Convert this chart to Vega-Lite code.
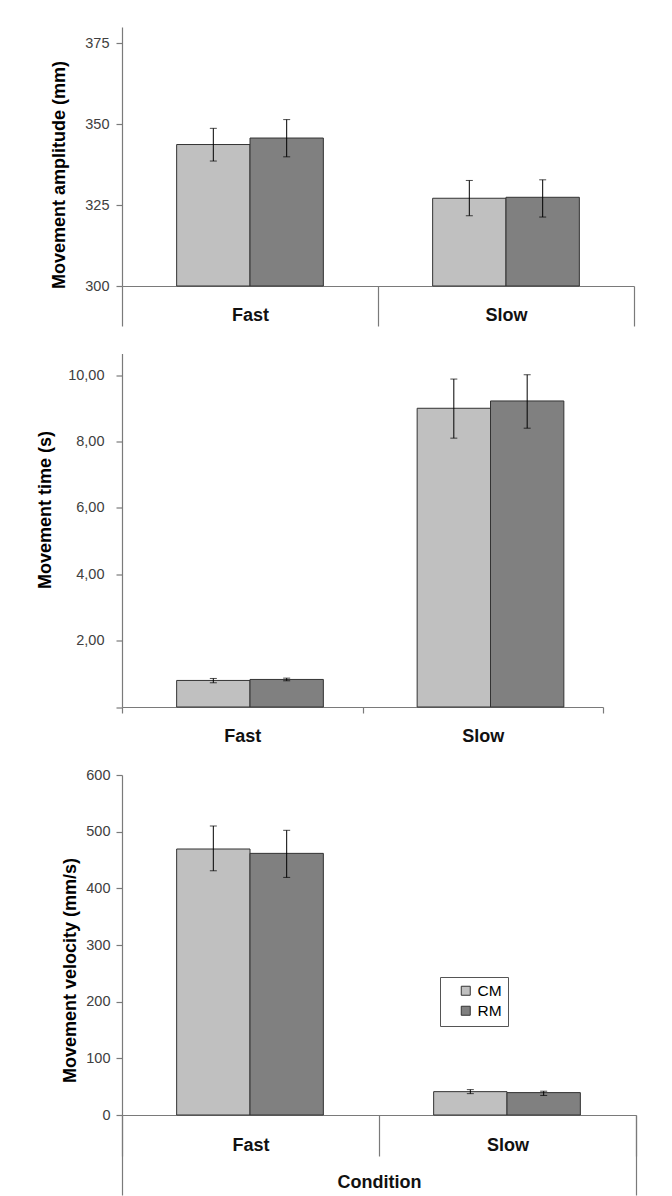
{
  "$schema": "https://vega.github.io/schema/vega-lite/v6.json",
  "background": "white",
  "padding": {"left": 36, "top": 27, "right": 35, "bottom": 0},
  "bounds": "flush",
  "spacing": 67.5,
  "config": {
    "font": "Liberation Sans",
    "view": {"stroke": null},
    "axis": {
      "grid": false,
      "domainColor": "#7a7a7a",
      "tickColor": "#7a7a7a",
      "domainWidth": 1.2,
      "tickWidth": 1.2,
      "labelFont": "Liberation Sans",
      "labelFontSize": 14.5,
      "labelColor": "#404040",
      "titleFont": "Liberation Sans",
      "titleFontSize": 18,
      "titleFontWeight": "bold",
      "titleColor": "#000000"
    },
    "axisX": {
      "labelFontSize": 18,
      "labelFontWeight": "bold",
      "labelColor": "#111111",
      "labelAngle": 0
    }
  },
  "resolve": {"scale": {"color": "independent"}},
  "datasets": {
    "amp": [
      {"cond": "Fast", "grp": "CM", "mean": 343.7, "lo": 338.6, "hi": 348.7},
      {"cond": "Fast", "grp": "RM", "mean": 345.7, "lo": 339.9, "hi": 351.4},
      {"cond": "Slow", "grp": "CM", "mean": 327.1, "lo": 321.7, "hi": 332.6},
      {"cond": "Slow", "grp": "RM", "mean": 327.4, "lo": 321.3, "hi": 332.8}
    ],
    "time": [
      {"cond": "Fast", "grp": "CM", "mean": 0.80, "lo": 0.73, "hi": 0.86},
      {"cond": "Fast", "grp": "RM", "mean": 0.83, "lo": 0.79, "hi": 0.87},
      {"cond": "Slow", "grp": "CM", "mean": 9.0, "lo": 8.10, "hi": 9.88},
      {"cond": "Slow", "grp": "RM", "mean": 9.22, "lo": 8.40, "hi": 10.01}
    ],
    "vel": [
      {"cond": "Fast", "grp": "CM", "mean": 469.4, "lo": 431, "hi": 510},
      {"cond": "Fast", "grp": "RM", "mean": 461.7, "lo": 419.3, "hi": 502.4},
      {"cond": "Slow", "grp": "CM", "mean": 41.2, "lo": 37.7, "hi": 44.8},
      {"cond": "Slow", "grp": "RM", "mean": 39.5, "lo": 34.5, "hi": 42.0}
    ],
    "outer": [
      {"outer": "Condition"}
    ]
  },
  "vconcat": [
    {
      "width": 512,
      "height": 259,
      "data": {"name": "amp"},
      "encoding": {
        "x": {"field": "cond", "type": "nominal", "scale": {"paddingInner": 0, "paddingOuter": 0},
              "axis": {"title": null, "tickBand": "extent", "tickSize": 40, "labelPadding": -19.4}},
        "xOffset": {"field": "grp", "type": "nominal", "scale": {"paddingInner": 0, "paddingOuter": 0.745}}
      },
      "layer": [
        {
          "mark": {"type": "bar", "stroke": "#333333", "strokeWidth": 1},
          "encoding": {
            "y": {"field": "mean", "type": "quantitative", "scale": {"domain": [300, 375], "zero": false},
                  "axis": {"title": "Movement amplitude (mm)", "values": [300, 325, 350, 375], "tickSize": 6, "labelPadding": 7,
                           "titleX": -63, "titleY": 147.5, "titleBaseline": "middle", "titleAlign": "center", "titleAngle": -90}},
            "y2": {"datum": 300},
            "color": {"field": "grp", "type": "nominal", "scale": {"domain": ["CM", "RM"], "range": ["#c0c0c0", "#808080"]}, "legend": null}
          }
        },
        {
          "mark": {"type": "rule", "color": "#000000", "strokeWidth": 1},
          "encoding": {"y": {"field": "lo", "type": "quantitative"}, "y2": {"field": "hi"}}
        },
        {
          "mark": {"type": "tick", "orient": "horizontal", "size": 7, "thickness": 1, "color": "#000000"},
          "encoding": {"y": {"field": "lo", "type": "quantitative"}}
        },
        {
          "mark": {"type": "tick", "orient": "horizontal", "size": 7, "thickness": 1, "color": "#000000"},
          "encoding": {"y": {"field": "hi", "type": "quantitative"}}
        }
      ]
    },
    {
      "width": 481,
      "height": 353.5,
      "data": {"name": "time"},
      "encoding": {
        "x": {"field": "cond", "type": "nominal", "scale": {"paddingInner": 0, "paddingOuter": 0},
              "axis": {"title": null, "tickBand": "extent", "tickSize": 6, "labelPadding": 14.5}},
        "xOffset": {"field": "grp", "type": "nominal", "scale": {"paddingInner": 0, "paddingOuter": 0.748}}
      },
      "layer": [
        {
          "mark": {"type": "bar", "stroke": "#333333", "strokeWidth": 1},
          "encoding": {
            "y": {"field": "mean", "type": "quantitative", "scale": {"domain": [0, 10.65], "nice": false},
                  "axis": {"title": "Movement time (s)", "values": [0, 2, 4, 6, 8, 10], "tickSize": 6, "labelPadding": 12,
                           "labelExpr": "datum.value === 0 ? '' : replace(format(datum.value, '.2f'), '.', ',')",
                           "titleX": -77, "titleY": 156, "titleBaseline": "middle", "titleAlign": "center", "titleAngle": -90}},
            "color": {"field": "grp", "type": "nominal", "scale": {"domain": ["CM", "RM"], "range": ["#c0c0c0", "#808080"]}, "legend": null}
          }
        },
        {
          "mark": {"type": "rule", "color": "#000000", "strokeWidth": 1},
          "encoding": {"y": {"field": "lo", "type": "quantitative"}, "y2": {"field": "hi"}}
        },
        {
          "mark": {"type": "tick", "orient": "horizontal", "size": 7, "thickness": 1, "color": "#000000"},
          "encoding": {"y": {"field": "lo", "type": "quantitative"}}
        },
        {
          "mark": {"type": "tick", "orient": "horizontal", "size": 7, "thickness": 1, "color": "#000000"},
          "encoding": {"y": {"field": "hi", "type": "quantitative"}}
        }
      ]
    },
    {
      "width": 514,
      "height": 340,
      "resolve": {"scale": {"x": "independent"}, "axis": {"x": "independent"}},
      "layer": [
        {
          "data": {"name": "vel"},
          "encoding": {
            "x": {"field": "cond", "type": "nominal", "scale": {"paddingInner": 0, "paddingOuter": 0},
                  "axis": {"title": null, "orient": "bottom", "tickBand": "extent", "tickSize": 41, "labelPadding": -19.8}},
            "xOffset": {"field": "grp", "type": "nominal", "scale": {"paddingInner": 0, "paddingOuter": 0.745}}
          },
          "layer": [
            {
              "mark": {"type": "bar", "stroke": "#333333", "strokeWidth": 1},
              "encoding": {
                "y": {"field": "mean", "type": "quantitative", "scale": {"domain": [0, 600]},
                      "axis": {"title": "Movement velocity (mm/s)", "values": [0, 100, 200, 300, 400, 500, 600], "tickSize": 6, "labelPadding": 6,
                               "titleX": -51.3, "titleY": 195, "titleBaseline": "middle", "titleAlign": "center", "titleAngle": -90}},
                "color": {"field": "grp", "type": "nominal", "scale": {"domain": ["CM", "RM"], "range": ["#c0c0c0", "#808080"]},
                          "legend": {"title": null, "orient": "none", "legendX": 318, "legendY": 202, "direction": "vertical",
                                     "symbolType": "square", "symbolSize": 81, "symbolStrokeColor": "#333333", "symbolStrokeWidth": 1,
                                     "labelFontSize": 15.5, "labelColor": "#000000", "labelFont": "Liberation Sans",
                                     "padding": 6, "rowPadding": 3, "symbolOffset": 12, "labelOffset": 4,
                                     "strokeColor": "#555555", "fillColor": "#ffffff"}}
              }
            },
            {
              "mark": {"type": "rule", "color": "#000000", "strokeWidth": 1},
              "encoding": {"y": {"field": "lo", "type": "quantitative"}, "y2": {"field": "hi"}}
            },
            {
              "mark": {"type": "tick", "orient": "horizontal", "size": 7, "thickness": 1, "color": "#000000"},
              "encoding": {"y": {"field": "lo", "type": "quantitative"}}
            },
            {
              "mark": {"type": "tick", "orient": "horizontal", "size": 7, "thickness": 1, "color": "#000000"},
              "encoding": {"y": {"field": "hi", "type": "quantitative"}}
            }
          ]
        },
        {
          "data": {"name": "outer"},
          "mark": {"type": "rule", "opacity": 0},
          "encoding": {
            "x": {"field": "outer", "type": "nominal", "scale": {"paddingInner": 0, "paddingOuter": 0},
                  "axis": {"title": null, "orient": "bottom", "domain": false, "tickBand": "extent", "tickSize": 80, "labelPadding": -21.5}}
          }
        }
      ]
    }
  ]
}
